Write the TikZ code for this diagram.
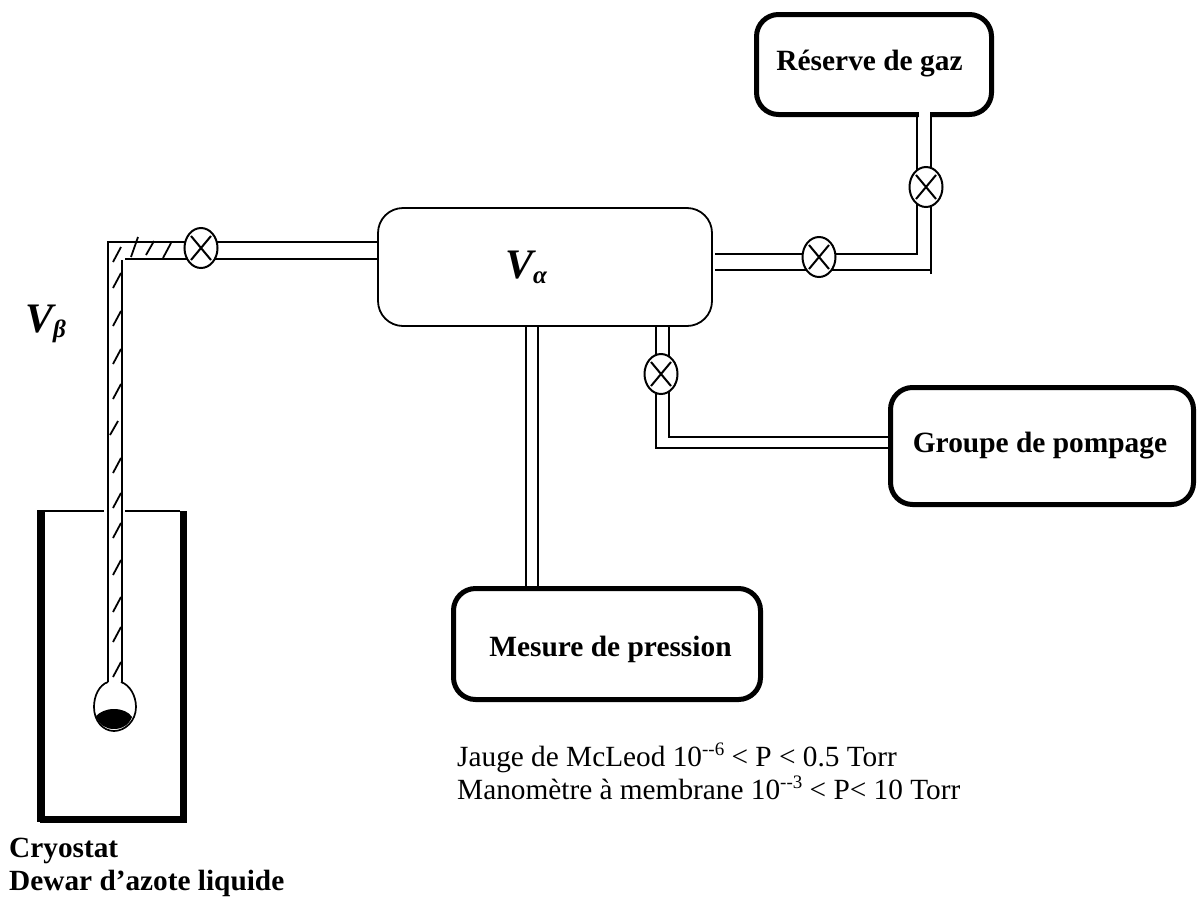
\documentclass[tikz,border=0pt]{standalone}
\usepackage{fontspec}
\setmainfont{Liberation Serif}
\usetikzlibrary{shapes.geometric}
\tikzset{
 x=1pt,y=-1pt,
 thickbox/.style={draw,line width=5pt,rounded corners=22pt,inner sep=0pt},
 vessel/.style={draw,line width=1.8pt,rounded corners=25pt,inner sep=0pt,minimum width=334pt,minimum height=118pt},
 valve/.style={draw,ellipse,line width=2pt,minimum width=33pt,minimum height=40pt,inner sep=0pt,fill=white},
 pipe/.style={line width=2.2pt},
 pipethin/.style={line width=1.7pt},
 hatch/.style={line width=1.8pt},
 lab/.style={font=\fontsize{29.4}{29.4}\selectfont\bfseries,inner sep=0pt,anchor=base},
 txt/.style={font=\fontsize{29.3}{32}\selectfont,inner sep=0pt,anchor=base west},
 btxt/.style={txt,font=\fontsize{29.3}{32}\selectfont\bfseries},
 vol/.style={font=\fontsize{42}{42}\selectfont\bfseries\itshape,inner sep=0pt,anchor=base west},
}
\newcommand{\valvecross}[1]{\draw[line width=2pt] (#1)+(-10,-12) -- +(10,12) (#1)+(10,-12) -- +(-10,12);}
\newcommand{\supr}[1]{\raisebox{11pt}{\fontsize{19}{19}\selectfont #1}}
\begin{document}
\begin{tikzpicture}
\useasboundingbox (0,0) rectangle (1198,897);
% boxes
\node[vessel] (va) at (545,267) {};
\node[thickbox,minimum width=235pt,minimum height=100pt] (res) at (874,64.5) {};
\node[thickbox,minimum width=303pt,minimum height=117pt] (grp) at (1042,446) {};
\node[thickbox,minimum width=307pt,minimum height=111pt] (mes) at (607,644) {};
\node[lab] (tres) at (869.5,70) {Réserve de gaz};
\node[lab] (tgrp) at (1040,452.7) {Groupe de pompage};
\node[lab] (tmes) at (610.5,656.7) {Mesure de pression};
\node[vol] (tva) at (505,278) {V\raisebox{-5pt}{\fontsize{25}{25}\selectfont α}};
\node[vol] (tvb) at (25,332) {V\raisebox{-5pt}{\fontsize{25}{25}\selectfont β}};
% valves
\coordinate (v1) at (201,248);
\coordinate (v2) at (819,257);
\coordinate (v3) at (926,187);
\coordinate (v4) at (661,374);
% pipe: bulb to valve 1 to vessel
\draw[pipe] (108,682) -- (108,242) -- (va.west |- 0,242);
\draw[pipe] (122,682) -- (122,260);
\draw[pipethin] (125,259) -- (va.west |- 0,259);
% pipe: vessel to valve 2 to valve 3 to reserve
\draw[pipe] (715,254) -- (917,254) -- (917,114);
\draw[pipethin] (715,270) -- (931,270);
\draw[pipe] (931,274) -- (931,114);
% pipe: vessel to gauge
\draw[pipe] (526,325) -- (526,588);
\draw[pipe] (538,325) -- (538,588);
% pipe: vessel to valve 4 to pump
\draw[pipe] (656,327) -- (656,448) -- (grp.west |- 0,448);
\draw[pipe] (669,327) -- (669,437) -- (grp.west |- 0,437);
% valves on top of the pipes
\node[valve] (w1) at (v1) {};
\node[valve] (w2) at (v2) {};
\node[valve] (w3) at (v3) {};
\node[valve] (w4) at (v4) {};
\valvecross{w1}\valvecross{w2}\valvecross{w3}\valvecross{w4}
% white gap in the thick outline
\fill[white] (919,110) rectangle (930,118);
% hatching
\draw[hatch] (131,257) -- (138,237);
\draw[hatch] (146,255) -- (154,241);
\draw[hatch] (163,258) -- (171,243);
\foreach \ya in {262,288,326,364,399,473,508,538,575,612,642,677}
  \draw[hatch] (113,\ya) -- ++(8,-15);
\draw[hatch] (110,435) -- ++(8,-14);
% dewar
\draw[line width=1.5pt] (45,511) -- (104,511) (125,511) -- (180,511);
\fill (37,510) rectangle (45,822);
\fill (180,511) rectangle (187,823);
\fill (40,816) rectangle (186,823);
% bulb
\draw[line width=1.7pt] (108,682) .. controls (99,685) and (94,696) .. (94,707) .. controls (94,721) and (103,731) .. (114,731) .. controls (125,731) and (136,721) .. (136,707) .. controls (136,696) and (130,685) .. (121,682);
\fill (96,716) .. controls (100,712) and (106,709) .. (114,709) .. controls (122,709) and (129,712) .. (132,717) .. controls (129,725) and (122,729) .. (114,729) .. controls (106,729) and (99,725) .. (96,716) -- cycle;
% text
\node[txt] (t1) at (457,766) {Jauge de McLeod 10\supr{-{}-6} < P < 0.5 Torr};
\node[txt] (t2) at (457,799.5) {Manomètre à membrane 10\supr{-{}-3} < P< 10 Torr};
\node[btxt] (t3) at (9,857) {Cryostat};
\node[btxt] (t4) at (9,890.5) {Dewar d’azote liquide};
\end{tikzpicture}
\end{document}
